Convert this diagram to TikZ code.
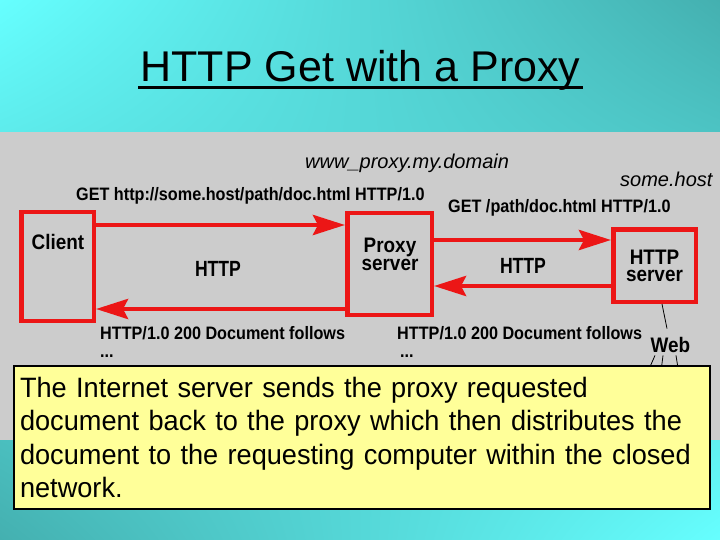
\documentclass[tikz,border=0pt]{standalone}
\usepackage{fontspec}
\setmainfont{Liberation Sans}
\newfontfamily\labfont[FakeStretch=0.9]{Liberation Sans}
\newfontfamily\notefont[FakeStretch=0.97]{Liberation Sans}
\newfontfamily\protofont[FakeStretch=0.8]{Liberation Sans}
\usetikzlibrary{arrows.meta,shadings}
\definecolor{cyanbg}{RGB}{102,255,255}
\definecolor{tealbg}{RGB}{68,176,176}
\definecolor{panel}{RGB}{204,204,204}
\definecolor{boxred}{RGB}{236,22,22}
\definecolor{note}{RGB}{255,255,153}
\begin{document}
\begin{tikzpicture}[x=1pt,y=1pt,
  redbox/.style={draw=boxred, line width=4.5pt, inner sep=0pt},
  redarrow/.style={draw=boxred, line width=4.5pt, -{Stealth[length=32pt,width=20pt,inset=5pt]}},
  boxlabel/.style={font=\labfont\bfseries\fontsize{21}{18}\selectfont, align=center, inner sep=0pt},
  msg/.style={font=\labfont\bfseries\fontsize{18}{18}\selectfont, inner sep=0pt, anchor=base west},
  host/.style={font=\itshape\fontsize{20}{20}\selectfont, inner sep=0pt, anchor=base west},
  proto/.style={font=\protofont\bfseries\fontsize{22}{22}\selectfont, inner sep=0pt, anchor=base},
  thinline/.style={draw=black, line width=0.8pt}
]
% background
\shade[upper left=cyanbg, upper right=tealbg, lower left=tealbg, lower right=cyanbg]
  (0,0) rectangle (720,-540);
\fill[panel] (0,-132) rectangle (720,-440);

% title
\node[font=\fontsize{43}{43}\selectfont, inner sep=0pt, anchor=base] (title) at (360.5,-82) {HTTP Get with a Proxy};
\draw[line width=3pt] ([xshift=-2pt,yshift=-5.5pt]title.base west) -- ([xshift=2pt,yshift=-5.5pt]title.base east);

% boxes
\node[redbox, minimum width=72.5pt, minimum height=108.5pt] (client) at (57.5,-266.5) {};
\node[boxlabel, anchor=base] (clientlbl) at (58,-249) {Client};
\node[redbox, minimum width=84.5pt, minimum height=101.5pt] (proxy) at (389.5,-264) {};
\node[boxlabel] (proxylbl) at (390,-254.4) {Proxy\\server};
\node[redbox, boxlabel, draw=boxred, line width=4.5pt, minimum width=82.5pt, minimum height=72.5pt, font=\labfont\bfseries\fontsize{21}{17}\selectfont] (http) at (654.5,-265.5) {HTTP\\server};

% arrows
\draw[redarrow] (client.east |- 0,-225) -- (proxy.west |- 0,-225);
\draw[redarrow] (proxy.west |- 0,-309) -- (client.east |- 0,-309);
\draw[redarrow] (proxy.east |- 0,-240) -- (http.west |- 0,-240);
\draw[redarrow] (http.west |- 0,-286) -- (proxy.east |- 0,-286);

% labels
\node[host] (domain) at (305,-169) {www\_proxy.my.domain};
\node[host] (somehost) at (620,-187) {some.host};
\node[msg] (get1) at (76,-201) {GET http://some.host/path/doc.html HTTP/1.0};
\node[msg] (get2) at (448,-213) {GET /path/doc.html HTTP/1.0};
\node[proto] (http1) at (218,-276) {HTTP};
\node[proto] (http2) at (523,-273) {HTTP};
\node[msg] (resp1) at (100,-339) {HTTP/1.0 200 Document follows};
\node[msg] (dots1) at (100,-357) {...};
\node[msg] (resp2) at (397,-339) {HTTP/1.0 200 Document follows};
\node[msg] (dots2) at (400,-357) {...};
\node[proto, font=\labfont\bfseries\fontsize{21}{21}\selectfont] (web) at (670.5,-352) {Web};

% web lines
\draw[thinline] ([xshift=7.5pt]http.south) -- ([xshift=-3.5pt,yshift=8pt]web.north);
\draw[thinline] ([shift={(-15.5pt,-3pt)}]web.south) -- ++(-7,-16);
\draw[thinline] ([shift={(-7.5pt,-3pt)}]web.south) -- ++(-2,-16);
\draw[thinline] ([shift={(5.5pt,-3pt)}]web.south) -- ++(2.5,-16);

% note
\node[draw=black, line width=2pt, fill=note, anchor=north west, inner xsep=6pt, inner ysep=0pt,
  text width=684pt, minimum height=143pt, align=left,
  font=\notefont\fontsize{28}{33.5}\selectfont] (note) at (13,-365)
  {The Internet server sends the proxy requested\\
   document back to the proxy which then distributes the\\
   document to the requesting computer within the closed\\
   network.};
\end{tikzpicture}
\end{document}
